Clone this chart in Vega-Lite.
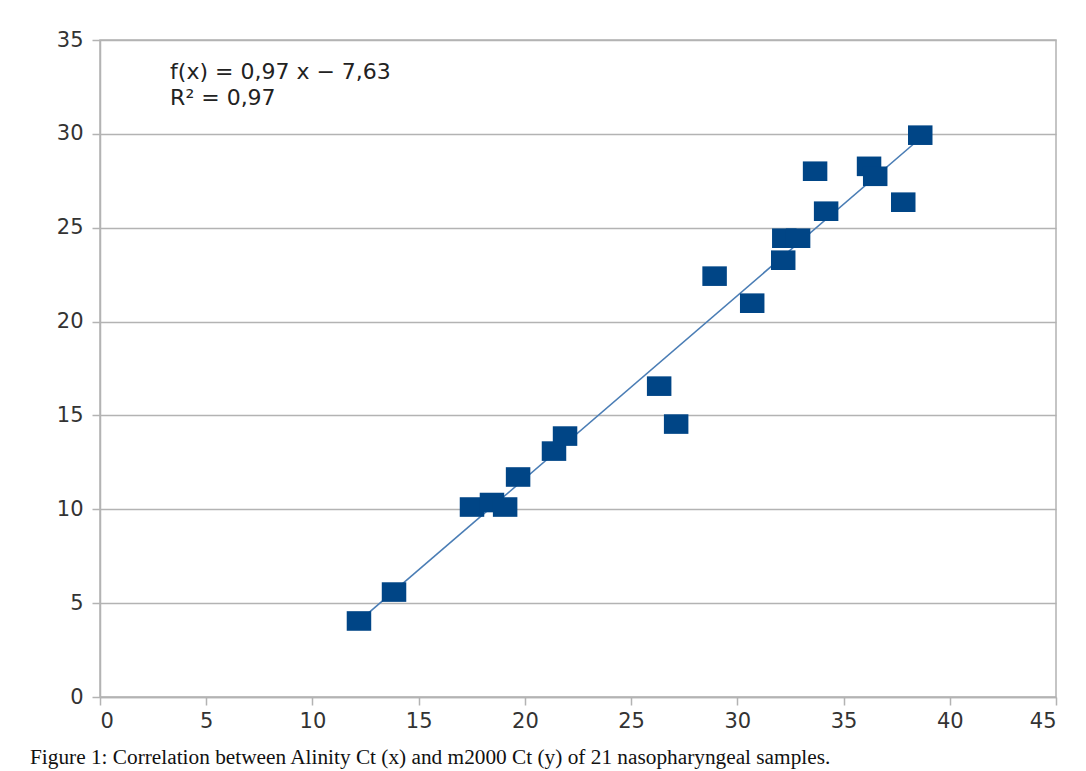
{
  "$schema": "https://vega.github.io/schema/vega-lite/v6.json",
  "width": 956,
  "height": 657,
  "autosize": "none",
  "padding": {"left": 100, "top": 40, "right": 30, "bottom": 74},
  "background": "white",
  "title": {
    "text": "Figure 1: Correlation between Alinity Ct (x) and m2000 Ct (y) of 21 nasopharyngeal  samples.",
    "orient": "bottom",
    "anchor": "start",
    "frame": "group",
    "dx": -70,
    "offset": 16,
    "font": "Liberation Serif",
    "fontSize": 21.3,
    "fontWeight": "normal",
    "color": "#111111"
  },
  "datasets": {
    "samples": [
      {"x": 12.19, "y": 4.05},
      {"x": 13.84, "y": 5.59},
      {"x": 17.51, "y": 10.12},
      {"x": 18.45, "y": 10.36},
      {"x": 19.07, "y": 10.12},
      {"x": 19.68, "y": 11.72},
      {"x": 21.37, "y": 13.10},
      {"x": 21.89, "y": 13.90},
      {"x": 26.32, "y": 16.56},
      {"x": 27.12, "y": 14.54},
      {"x": 28.93, "y": 22.42},
      {"x": 30.70, "y": 20.98},
      {"x": 32.16, "y": 23.27},
      {"x": 32.21, "y": 24.44},
      {"x": 32.86, "y": 24.44},
      {"x": 33.66, "y": 28.01},
      {"x": 34.18, "y": 25.88},
      {"x": 36.20, "y": 28.27},
      {"x": 36.49, "y": 27.74},
      {"x": 37.81, "y": 26.36},
      {"x": 38.61, "y": 29.93}
    ],
    "equation": [{"label": "f(x) = 0,97 x − 7,63"}],
    "rsquared": [{"label": "R² = 0,97"}]
  },
  "layer": [
    {
      "data": {"name": "samples"},
      "transform": [{"regression": "y", "on": "x"}],
      "mark": {"type": "line", "color": "#4a7db5", "strokeWidth": 1.6},
      "encoding": {
        "x": {
          "field": "x",
          "type": "quantitative",
          "scale": {"domain": [0, 45], "nice": false, "zero": false},
          "axis": {"values": [0, 5, 10, 15, 20, 25, 30, 35, 40, 45], "title": null, "grid": false}
        },
        "y": {
          "field": "y",
          "type": "quantitative",
          "scale": {"domain": [0, 35], "nice": false, "zero": false},
          "axis": {"values": [0, 5, 10, 15, 20, 25, 30, 35], "title": null, "grid": true, "labelPadding": 9}
        }
      }
    },
    {
      "data": {"name": "samples"},
      "mark": {
        "type": "point",
        "shape": "M-1,-0.8H1V0.8H-1Z",
        "filled": true,
        "size": 600,
        "color": "#004586",
        "opacity": 1
      },
      "encoding": {
        "x": {"field": "x", "type": "quantitative"},
        "y": {"field": "y", "type": "quantitative"}
      }
    },
    {
      "data": {"name": "equation"},
      "mark": {
        "type": "text",
        "align": "left",
        "baseline": "middle",
        "font": "DejaVu Sans",
        "fontSize": 22,
        "color": "#222222"
      },
      "encoding": {
        "text": {"field": "label", "type": "nominal"},
        "x": {"datum": 3.3, "type": "quantitative"},
        "y": {"datum": 33.3, "type": "quantitative"}
      }
    },
    {
      "data": {"name": "rsquared"},
      "mark": {
        "type": "text",
        "align": "left",
        "baseline": "middle",
        "font": "DejaVu Sans",
        "fontSize": 22,
        "color": "#222222"
      },
      "encoding": {
        "text": {"field": "label", "type": "nominal"},
        "x": {"datum": 3.3, "type": "quantitative"},
        "y": {"datum": 31.9, "type": "quantitative"}
      }
    }
  ],
  "config": {
    "view": {"stroke": "#b3b3b3", "strokeWidth": 1.5},
    "axis": {
      "domainColor": "#b3b3b3",
      "domainWidth": 1.5,
      "tickColor": "#b3b3b3",
      "tickWidth": 1.5,
      "tickSize": 8,
      "gridColor": "#b3b3b3",
      "gridWidth": 1.5,
      "labelFont": "DejaVu Sans",
      "labelFontSize": 21,
      "labelColor": "#333333",
      "labelPadding": 5
    }
  }
}
